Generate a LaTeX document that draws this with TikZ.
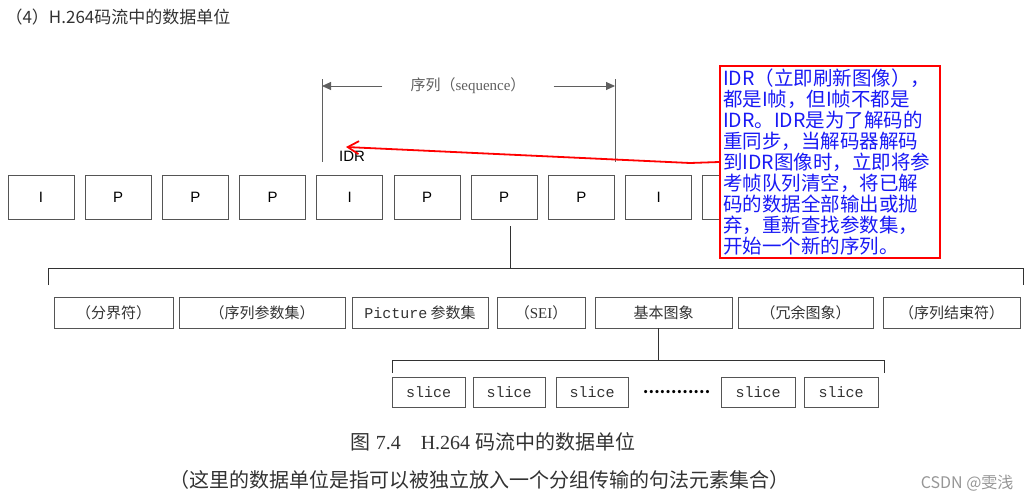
\documentclass[tikz,border=0pt]{standalone}
\usepackage{fontspec}
\usepackage{tikz}
\usetikzlibrary{arrows.meta,calc}
\setmainfont{Liberation Serif}
\setsansfont{Liberation Sans}
\setmonofont{Liberation Mono}
\newfontfamily\cjk{Noto Sans CJK SC}
\definecolor{fgray}{RGB}{85,85,85}
\definecolor{tgray}{RGB}{50,50,50}
\definecolor{seqgray}{RGB}{95,95,95}
\definecolor{markgray}{RGB}{150,150,150}
\definecolor{notered}{RGB}{255,0,0}
\definecolor{noteblue}{RGB}{25,25,245}

\begin{document}
\begin{tikzpicture}[x=1pt,y=-1pt,
  frm/.style={draw=fgray,line width=0.9pt,minimum width=66pt,minimum height=44pt,inner sep=0pt,
    font=\fontsize{15}{18}\selectfont\sffamily,text=black},
  nalu/.style={draw=fgray,line width=0.9pt,minimum height=31pt,inner sep=0pt,
    font=\fontsize{15}{18}\selectfont\cjk,text=tgray},
  slc/.style={nalu,minimum height=30pt,font=\fontsize{15}{18}\selectfont\ttfamily},
  brk/.style={draw=tgray,line width=0.9pt},
  seqline/.style={draw=seqgray,line width=0.9pt},
  note/.style={draw=notered,line width=1.8pt,fill=white,text=noteblue,text width=214pt,
    align=left,inner sep=3pt,minimum height=190pt,font=\fontsize{19.5}{20.9}\selectfont\cjk},
  redarr/.style={draw=notered,line width=1.8pt,-{Straight Barb[length=11pt,width=13pt]}}]
\useasboundingbox (0,0) rectangle (1033,501);
% title
\node[anchor=west,font=\fontsize{17}{20}\selectfont\cjk,text=tgray] (title) at (2,17) {（4）H.264码流中的数据单位};
% frames of the stream
\foreach \t [count=\i] in {I,P,P,P,I,P,P,P,I,{}}
  \node[frm] (f\i) at ({41+77.2*(\i-1)},197) {\t};
\node[font=\fontsize{15}{18}\selectfont\sffamily] (idr) at (352,156) {IDR};
% sequence marker
\coordinate (sqL) at (322,79);
\coordinate (sqR) at (615,79);
\draw[seqline] (sqL) -- (sqL |- 0,162);
\draw[seqline] (sqR) -- (sqR |- 0,162);
\node[inner xsep=28pt,font=\fontsize{15}{18}\selectfont,text=seqgray] (seq) at (468,86) {{\cjk 序列（}sequence{\cjk ）}};
\draw[seqline,-{Triangle[length=9pt,width=8pt]}] (seq.west) -- (sqL |- seq.west);
\draw[seqline,-{Triangle[length=9pt,width=8pt]}] (seq.east) -- (sqR |- seq.east);
% IDR note
\node[note] (note) at (830,162) {IDR（立即刷新图像），\\都是I帧，但I帧不都是\\IDR。IDR是为了解码的\\重同步，当解码器解码\\到IDR图像时，立即将参\\考帧队列清空，将已解\\码的数据全部输出或抛\\弃，重新查找参数集，\\开始一个新的序列。};
\coordinate (kink) at (690,163);
\coordinate (tip) at (346,147);
\draw[redarr] (note.west) -- (kink) -- (tip);
% NAL units
\coordinate (fj) at ($(f7.south)+(6,7)$);
\coordinate (bl) at (48,285);
\coordinate (br) at (1023,285);
\draw[brk] (fj) -- (fj |- 0,268);
\draw[brk] (bl) -- (bl |- 0,268) -- (br |- 0,268) -- (br);
\foreach \a/\b/\lab [count=\i] in {54/173/{（分界符）},179/345/{（序列参数集）},352/488/{{\ttfamily Picture}\ 参数集},
    497/585/{（{\rmfamily SEI}）},595/732/{基本图象},738/873/{（冗余图象）},883/1020/{（序列结束符）}}
  \node[nalu,minimum width={\b-\a}] (n\i) at ({(\a+\b)/2},312.5) {\lab};
% slices
\coordinate (nj) at ($(n5.south)+(-5,0)$);
\coordinate (sl) at (392,373);
\coordinate (sr) at (884,373);
\draw[brk] (nj) -- (nj |- 0,360);
\draw[brk] (sl) -- (sl |- 0,360) -- (sr |- 0,360) -- (sr);
\foreach \a/\b [count=\i] in {392/465,473/545,556/628,721/795,804/878}
  \node[slc,minimum width={\b-\a}] (s\i) at ({(\a+\b)/2},392) {slice};
\node[font=\fontsize{15}{18}\selectfont\cjk\bfseries,text=black] (dots) at (676.5,392) {…………};
% caption
\node[font=\fontsize{20}{24}\selectfont,text=tgray] (cap1) at (493,442) {{\cjk 图} 7.4\hspace{20pt}H.264 {\cjk 码流中的数据单位}};
\node[font=\fontsize{20}{24}\selectfont\cjk,text=tgray] (cap2) at (479,480) {（这里的数据单位是指可以被独立放入一个分组传输的句法元素集合）};
\node[anchor=east,font=\fontsize{16}{19}\selectfont\cjk,text=markgray] (mark) at (1017,483) {CSDN @雯浅};
\end{tikzpicture}
\end{document}
